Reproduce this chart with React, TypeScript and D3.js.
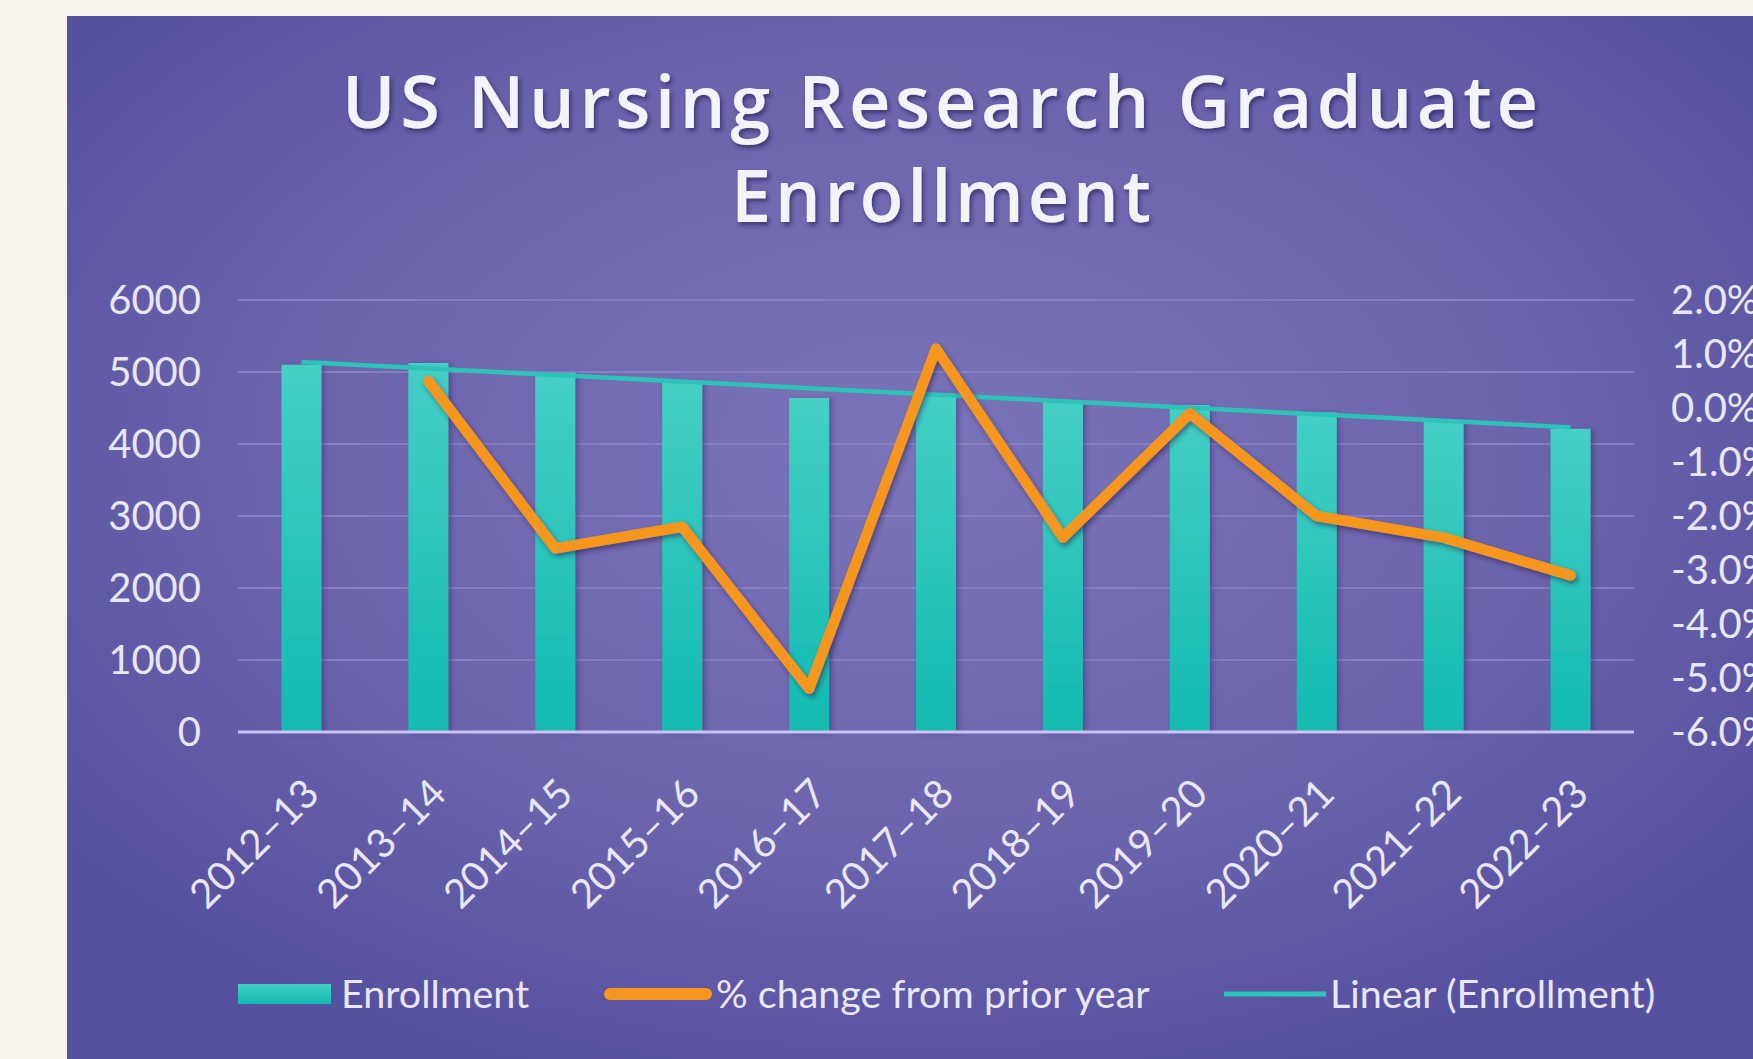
import React from 'react';
import * as d3 from 'd3';

// school years on the x axis
const years = ['2012–13', '2013–14', '2014–15', '2015–16', '2016–17', '2017–18', '2018–19', '2019–20', '2020–21', '2021–22', '2022–23'];
// total enrollment (bars, left axis)
const enrollment = [5100, 5125, 4990, 4870, 4640, 4700, 4590, 4540, 4440, 4330, 4210];
// % change from prior year (orange line, right axis) - first year has none
const pctChange = [null, 0.5, -2.6, -2.2, -5.2, 1.1, -2.4, -0.1, -2.0, -2.4, -3.1];
const leftTicks = [0, 1000, 2000, 3000, 4000, 5000, 6000];
const rightTicks = [-6, -5, -4, -3, -2, -1, 0, 1, 2];

const W = 1753;
const H = 1059;
const plot = { left: 238, right: 1634, top: 300, bottom: 732 };
const font = 'Lato, "Open Sans", sans-serif';
const textCol = '#e9e7f7';

export default function App() {
  const x = d3.scaleBand<string>()
    .domain(years)
    .range([plot.left, plot.right])
    .paddingInner(0.685)
    .paddingOuter(0.3425);
  const yL = d3.scaleLinear().domain([0, 6000]).range([plot.bottom, plot.top]);
  const yR = d3.scaleLinear().domain([-6, 2]).range([plot.bottom, plot.top]);
  const cx = (d: string) => (x(d) as number) + x.bandwidth() / 2;

  // linear trend of enrollment (least squares)
  const n = enrollment.length;
  const xm = (n - 1) / 2;
  const ym = d3.mean(enrollment) as number;
  const slope = d3.sum(enrollment, (v, i) => (i - xm) * (v - ym)) / d3.sum(enrollment, (_, i) => (i - xm) ** 2);
  const trend = enrollment.map((_, i) => ym + slope * (i - xm));

  const trendLine = d3.line<number>()
    .x((_, i) => cx(years[i]))
    .y(d => yL(d))(trend);

  const pctLine = d3.line<number | null>()
    .defined(d => d !== null)
    .x((_, i) => cx(years[i]))
    .y(d => yR(d as number))(pctChange);

  // excel style: plain hyphen for negatives
  const pctFmt = (t: number) => d3.format('.1f')(t).replace('−', '-') + '%';

  return (
    <svg width={W} height={H} style={{ position: 'fixed', left: 0, top: 0, display: 'block' }}>
      <defs>
        <radialGradient id="bg" cx="0.5" cy="0.42" r="0.62">
          <stop offset="0" stopColor="#7a74b8" />
          <stop offset="0.6" stopColor="#6b64ad" />
          <stop offset="1" stopColor="#5650a0" />
        </radialGradient>
        <linearGradient id="bar" x1="0" y1="0" x2="0" y2="1">
          <stop offset="0" stopColor="#45cfc5" />
          <stop offset="1" stopColor="#12bab1" />
        </linearGradient>
        <filter id="tshadow" x="-10%" y="-30%" width="120%" height="160%">
          <feDropShadow dx="2" dy="3" stdDeviation="2" floodColor="#251f52" floodOpacity="0.65" />
        </filter>
        <filter id="lshadow" x="-10%" y="-20%" width="120%" height="140%">
          <feDropShadow dx="2" dy="3" stdDeviation="2.5" floodColor="#2b2150" floodOpacity="0.55" />
        </filter>
        <filter id="bshadow" x="-30%" y="-5%" width="160%" height="110%">
          <feDropShadow dx="3" dy="1" stdDeviation="2.5" floodColor="#322a6a" floodOpacity="0.45" />
        </filter>
      </defs>

      <rect x={0} y={0} width={W} height={H} fill="#f7f3ec" />
      <rect x={67} y={16} width={W - 67} height={H - 16} fill="url(#bg)" />

      {/* title */}
      <g fill="#f4f2fb" fontFamily='"Open Sans", Lato, sans-serif' fontWeight={600} fontSize={72} textAnchor="middle" filter="url(#tshadow)">
        <text x={940} y={128} textLength={1196} lengthAdjust="spacing">US Nursing Research Graduate</text>
        <text x={941} y={222} textLength={420} lengthAdjust="spacing">Enrollment</text>
      </g>

      {/* gridlines */}
      {leftTicks.filter(t => t > 0).map(t => (
        <line key={t} x1={plot.left} x2={plot.right} y1={yL(t)} y2={yL(t)} stroke="#8e87c9" strokeWidth={2} opacity={0.75} />
      ))}

      {/* bars */}
      <g filter="url(#bshadow)">
        {years.map((yr, i) => (
          <rect key={yr} x={x(yr)} y={yL(enrollment[i])} width={x.bandwidth()} height={yL(0) - yL(enrollment[i])} fill="url(#bar)" />
        ))}
      </g>

      {/* zero axis */}
      <line x1={plot.left} x2={plot.right} y1={yL(0)} y2={yL(0)} stroke="#cbc4f2" strokeWidth={3} />

      {/* trend line */}
      <path d={trendLine as string} fill="none" stroke="#2cc3b8" strokeWidth={4.5} />

      {/* % change line */}
      <path d={pctLine as string} fill="none" stroke="#f7961f" strokeWidth={10.5} strokeLinejoin="round" strokeLinecap="round" filter="url(#lshadow)" />

      {/* left axis */}
      <g fontFamily={font} fontSize={40} fill={textCol} textAnchor="end">
        {leftTicks.map(t => (
          <text key={t} x={201} y={yL(t)} dy="0.36em">{t}</text>
        ))}
      </g>

      {/* right axis (runs off the right edge, as in the original) */}
      <g fontFamily={font} fontSize={40} fill={textCol} textAnchor="start">
        {rightTicks.map(t => (
          <text key={t} x={1671} y={yR(t)} dy="0.36em">{pctFmt(t)}</text>
        ))}
      </g>

      {/* x labels */}
      <g fontFamily={font} fontSize={40} fill={textCol} textAnchor="end">
        {years.map(yr => (
          <text key={yr} transform={`translate(${cx(yr) + 20},${plot.bottom + 64}) rotate(-45)`}>{yr}</text>
        ))}
      </g>

      {/* legend */}
      <g fontFamily={font} fontSize={39.5} fill={textCol}>
        <rect x={238} y={984} width={93} height={20} fill="url(#bar)" />
        <text x={341} y={994} dy="0.36em">Enrollment</text>
        <line x1={610} x2={706} y1={994} y2={994} stroke="#f7961f" strokeWidth={12} strokeLinecap="round" />
        <text x={716} y={994} dy="0.36em">% change from prior year</text>
        <line x1={1224} x2={1326} y1={994} y2={994} stroke="#2cc3b8" strokeWidth={5} />
        <text x={1330} y={994} dy="0.36em">Linear (Enrollment)</text>
      </g>
    </svg>
  );
}
